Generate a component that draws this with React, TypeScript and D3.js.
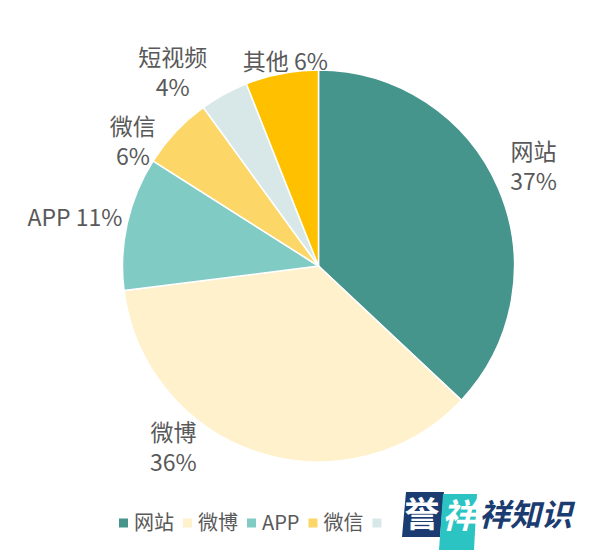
import React, { useEffect, useRef } from "react"
import * as d3 from "d3"

// data
const categories = ["网站", "微博", "APP", "微信", "短视频", "其他"]
const shares = [37, 36, 11, 6, 4, 6]
const colors = ["#46958d", "#fff1cc", "#80ccc5", "#fcd667", "#d8e8e8", "#ffc000"]

const width = 600
const height = 560
const cx = 318.5
const cy = 266
const radius = 196
const labelFont = "'Noto Sans CJK SC', 'Noto Sans', sans-serif"

// label layout: single-line labels and nudges from the outer centroid
const singleLine = ["APP", "其他"]
const labelNudge: Record<string, [number, number]> = {
  网站: [4, -8],
  微博: [-74, -37],
  APP: [-19, 2],
  微信: [-18, 33],
  短视频: [-35, 8],
  其他: [10, 22],
}

const App = () => {
  const ref = useRef<SVGSVGElement>(null)

  useEffect(() => {
    const svg = d3.select(ref.current)
    svg.selectAll("*").remove()

    const data = categories.map((c, i) => ({ name: c, value: shares[i], color: colors[i] }))
    const pie = d3
      .pie<any>()
      .sort(null)
      .value((d) => d.value)
    const arcs = pie(data)
    const arc = d3.arc<any>().innerRadius(0).outerRadius(radius)
    const labelArc = d3.arc<any>().innerRadius(230).outerRadius(230)

    const g = svg.append("g").attr("transform", `translate(${cx}, ${cy})`)
    g.selectAll("path")
      .data(arcs)
      .join("path")
      .attr("d", arc)
      .attr("fill", (d) => d.data.color)
      .attr("stroke", "#ffffff")
      .attr("stroke-width", 1.5)

    // slice labels
    arcs.forEach((a) => {
      const [x0, y0] = labelArc.centroid(a)
      const [nx, ny] = labelNudge[a.data.name]
      const x = x0 + nx
      const y = y0 + ny
      const t = g
        .append("text")
        .attr("text-anchor", "middle")
        .attr("font-family", labelFont)
        .attr("font-size", 23)
        .attr("fill", "#595959")
      if (singleLine.includes(a.data.name)) {
        t.append("tspan").attr("x", x).attr("y", y).attr("dy", "0.35em").text(`${a.data.name} ${a.data.value}%`)
      } else {
        t.append("tspan").attr("x", x).attr("y", y - 15).attr("dy", "0.35em").text(a.data.name)
        t.append("tspan").attr("x", x).attr("y", y + 15).attr("dy", "0.35em").text(`${a.data.value}%`)
      }
    })

    // legend (its tail is hidden under the watermark, as in the source)
    svg
      .append("clipPath")
      .attr("id", "legend-clip")
      .append("rect")
      .attr("x", 0)
      .attr("y", 490)
      .attr("width", 388)
      .attr("height", 70)
    const legend = svg
      .append("g")
      .attr("clip-path", "url(#legend-clip)")
      .append("g")
      .attr("transform", `translate(0, 523)`)
    let lx = 119
    data.forEach((d) => {
      legend
        .append("rect")
        .attr("x", lx)
        .attr("y", -4.5)
        .attr("width", 9)
        .attr("height", 9)
        .attr("fill", d.color)
      const txt = legend
        .append("text")
        .attr("x", lx + 15)
        .attr("y", 0)
        .attr("dy", "0.35em")
        .attr("font-family", labelFont)
        .attr("font-size", 20)
        .attr("fill", "#595959")
        .text(d.name)
      const w = (txt.node() as SVGTextElement).getComputedTextLength()
      lx = lx + 15 + w + 9
    })

    // watermark
    const wm = svg.append("g")
    wm.append("polygon").attr("points", "406,492 444,492 440,537 402,537").attr("fill", "#1b3c70")
    wm.append("polygon").attr("points", "443,494 477,494 474,550 439,550").attr("fill", "#2cc3c3")
    wm.append("text")
      .attr("x", 422)
      .attr("y", 515)
      .attr("dy", "0.35em")
      .attr("text-anchor", "middle")
      .attr("font-family", labelFont)
      .attr("font-weight", "bold")
      .attr("font-size", 35)
      .attr("fill", "#ffffff")
      .text("誉")
    wm.append("text")
      .attr("x", 459)
      .attr("y", 516)
      .attr("dy", "0.35em")
      .attr("text-anchor", "middle")
      .attr("font-family", labelFont)
      .attr("font-weight", "bold")
      .attr("font-style", "italic")
      .attr("font-size", 34)
      .attr("fill", "#ffffff")
      .text("祥")
    wm.append("text")
      .attr("x", 479)
      .attr("y", 515)
      .attr("dy", "0.35em")
      .attr("font-family", labelFont)
      .attr("font-weight", "bold")
      .attr("font-style", "italic")
      .attr("font-size", 31)
      .attr("fill", "#1b3c70")
      .text("祥知识")
  }, [])

  return (
    <svg
      ref={ref}
      width={width}
      height={height}
      style={{ position: "absolute", left: 0, top: 0, background: "#ffffff" }}
    />
  )
}

export default App
